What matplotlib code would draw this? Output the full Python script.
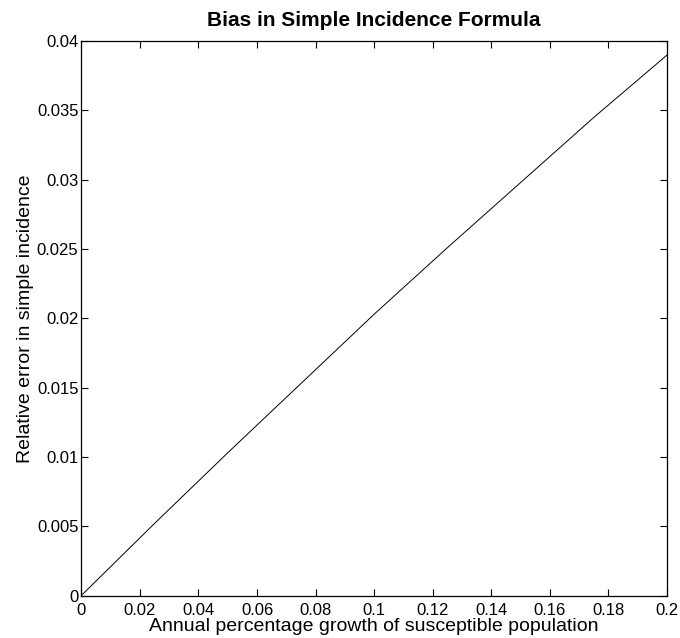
import matplotlib
matplotlib.use('Agg')
import matplotlib.pyplot as plt

plt.rcParams.update({
    'font.family': ['Liberation Sans', 'DejaVu Sans'],
    'xtick.direction': 'in',
    'ytick.direction': 'in',
    'xtick.top': True,
    'ytick.right': True,
})

# growth rate vs relative error
growth = [0.0, 0.025, 0.05, 0.075, 0.1, 0.125, 0.15, 0.175, 0.2]
rel_error = [0.0, 0.0052, 0.0103, 0.0153, 0.0203, 0.0251, 0.0298, 0.0345, 0.0390]

xticks = [0, 0.02, 0.04, 0.06, 0.08, 0.1, 0.12, 0.14, 0.16, 0.18, 0.2]
xticklabels = ['0', '0.02', '0.04', '0.06', '0.08', '0.1', '0.12', '0.14', '0.16', '0.18', '0.2']
yticks = [0, 0.005, 0.01, 0.015, 0.02, 0.025, 0.03, 0.035, 0.04]
yticklabels = ['0', '0.005', '0.01', '0.015', '0.02', '0.025', '0.03', '0.035', '0.04']

fig = plt.figure(figsize=(6.8, 6.38), dpi=100)
ax = fig.add_axes([0.1195, 0.0665, 0.8615, 0.869])

ax.plot(growth, rel_error, color='black', linewidth=0.7)

ax.set_xlim(0, 0.2)
ax.set_ylim(0, 0.04)
ax.set_xticks(xticks)
ax.set_xticklabels(xticklabels)
ax.set_yticks(yticks)
ax.set_yticklabels(yticklabels)
ax.tick_params(labelsize=12, length=5, width=0.8)
ax.tick_params(axis='x', pad=5)
ax.tick_params(axis='y', pad=2)
for s in ax.spines.values():
    s.set_linewidth(0.9)

ax.set_xlabel('Annual percentage growth of susceptible population', fontsize=14, labelpad=0)
ax.set_ylabel('Relative error in simple incidence', fontsize=14, labelpad=2)
ax.set_title('Bias in Simple Incidence Formula', fontsize=15, fontweight='bold', pad=11)

fig.savefig('out.png', dpi=100)
